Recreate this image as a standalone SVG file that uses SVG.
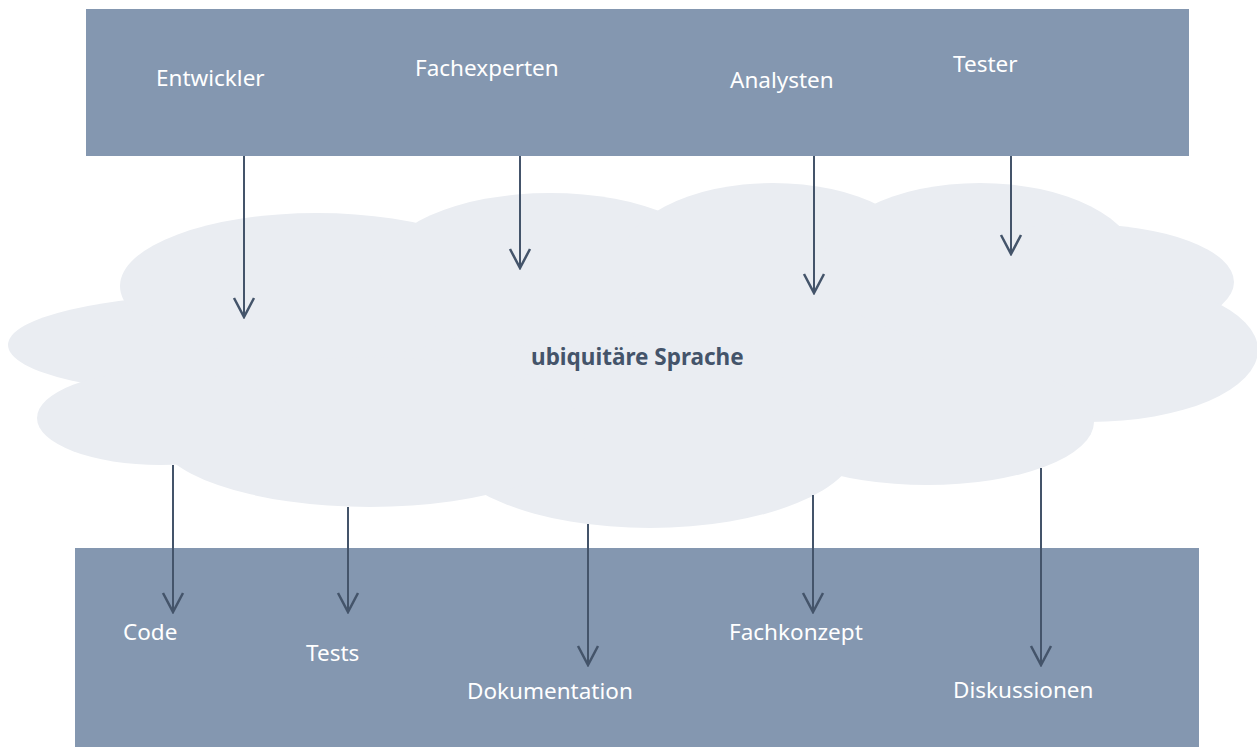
<svg xmlns="http://www.w3.org/2000/svg" width="1257" height="754" viewBox="0 0 1257 754">
  <defs>
    <style>
      .band { fill: #8497B0; }
      .cloud { fill: #EAEDF2; }
      .lbl { font-family: "Noto Sans", "Open Sans", sans-serif; font-size: 22.5px; fill: #FFFFFF; }
      .core { font-family: "Noto Sans", "Open Sans", sans-serif; font-size: 22.5px; font-weight: bold; fill: #44546A; }
      .wire { stroke: #44546A; stroke-width: 2; fill: none; }
    </style>
    <!-- open V arrowhead, drawn pointing along +x so orient="auto" turns it down the line -->
    <marker id="vee" viewBox="0 0 24 24" markerWidth="24" markerHeight="24" refX="22" refY="12" orient="auto" markerUnits="userSpaceOnUse">
      <path d="M3 2 L22 12 L3 22" stroke="#44546A" stroke-width="2.5" fill="none"/>
    </marker>
  </defs>

  <rect width="1257" height="754" fill="#FFFFFF"/>

  <!-- roles band -->
  <g id="roles">
    <rect class="band" x="86" y="9" width="1103" height="147"/>
    <text class="lbl" x="156" y="86">Entwickler</text>
    <text class="lbl" x="415" y="76">Fachexperten</text>
    <text class="lbl" x="730" y="88">Analysten</text>
    <text class="lbl" x="953" y="72">Tester</text>
  </g>

  <!-- artefacts band -->
  <g id="artefacts">
    <rect class="band" x="75" y="548" width="1124" height="199"/>
    <text class="lbl" x="123" y="640">Code</text>
    <text class="lbl" x="306" y="661">Tests</text>
    <text class="lbl" x="467" y="699">Dokumentation</text>
    <text class="lbl" x="729" y="640">Fachkonzept</text>
    <text class="lbl" x="953" y="698">Diskussionen</text>
  </g>

  <!-- cloud built from overlapping lobes -->
  <g id="language">
    <g class="cloud">
      <ellipse cx="640" cy="350" rx="450" ry="130"/>
      <ellipse cx="220" cy="345" rx="212" ry="50"/>
      <ellipse cx="317" cy="286" rx="197" ry="73"/>
      <ellipse cx="550" cy="270" rx="170" ry="77"/>
      <ellipse cx="773" cy="263" rx="153" ry="80"/>
      <ellipse cx="980" cy="263" rx="157" ry="80"/>
      <ellipse cx="1080" cy="282" rx="154" ry="58"/>
      <ellipse cx="1090" cy="350" rx="168" ry="72"/>
      <ellipse cx="927" cy="422" rx="167" ry="63"/>
      <ellipse cx="650" cy="443" rx="208" ry="85"/>
      <ellipse cx="370" cy="432" rx="215" ry="75"/>
      <ellipse cx="160" cy="418" rx="123" ry="47"/>
    </g>
    <text class="core" x="531" y="365">ubiquitäre Sprache</text>
  </g>

  <!-- connectors -->
  <g id="connectors">
    <line class="wire" x1="244" y1="156" x2="244" y2="317" marker-end="url(#vee)"/>
    <line class="wire" x1="520" y1="156" x2="520" y2="268" marker-end="url(#vee)"/>
    <line class="wire" x1="814" y1="156" x2="814" y2="293" marker-end="url(#vee)"/>
    <line class="wire" x1="1011" y1="156" x2="1011" y2="254" marker-end="url(#vee)"/>
    <line class="wire" x1="173" y1="465" x2="173" y2="612" marker-end="url(#vee)"/>
    <line class="wire" x1="348" y1="507" x2="348" y2="612" marker-end="url(#vee)"/>
    <line class="wire" x1="588" y1="524" x2="588" y2="665" marker-end="url(#vee)"/>
    <line class="wire" x1="813" y1="495" x2="813" y2="612" marker-end="url(#vee)"/>
    <line class="wire" x1="1041" y1="468" x2="1041" y2="665" marker-end="url(#vee)"/>
  </g>
</svg>
